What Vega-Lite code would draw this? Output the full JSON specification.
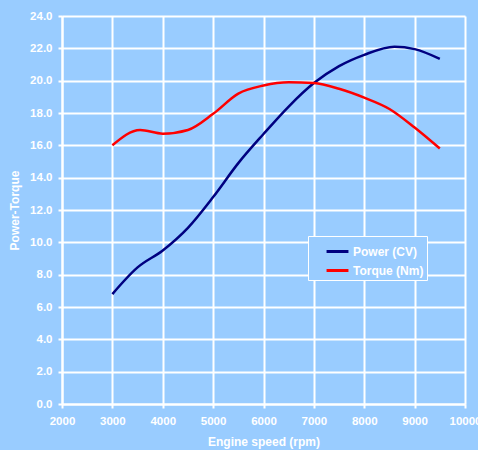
{
  "$schema": "https://vega.github.io/schema/vega-lite/v6.json",
  "width": 403,
  "height": 388,
  "autosize": {"type": "none"},
  "padding": {"left": 62, "top": 16, "right": 13, "bottom": 46},
  "background": "#99CCFF",
  "config": {
    "view": {"stroke": null, "fill": "#99CCFF"},
    "font": "Liberation Sans"
  },
  "data": {
    "values": [
      {"rpm": 3000, "value": 6.8, "series": "Power (CV)"},
      {"rpm": 3500, "value": 8.45, "series": "Power (CV)"},
      {"rpm": 4000, "value": 9.5, "series": "Power (CV)"},
      {"rpm": 4500, "value": 10.9, "series": "Power (CV)"},
      {"rpm": 5000, "value": 12.8, "series": "Power (CV)"},
      {"rpm": 5500, "value": 14.9, "series": "Power (CV)"},
      {"rpm": 6000, "value": 16.7, "series": "Power (CV)"},
      {"rpm": 6500, "value": 18.4, "series": "Power (CV)"},
      {"rpm": 7000, "value": 19.85, "series": "Power (CV)"},
      {"rpm": 7500, "value": 20.9, "series": "Power (CV)"},
      {"rpm": 8000, "value": 21.6, "series": "Power (CV)"},
      {"rpm": 8600, "value": 22.1, "series": "Power (CV)"},
      {"rpm": 9000, "value": 21.95, "series": "Power (CV)"},
      {"rpm": 9500, "value": 21.35, "series": "Power (CV)"},
      {"rpm": 3000, "value": 16.0, "series": "Torque (Nm)"},
      {"rpm": 3550, "value": 16.95, "series": "Torque (Nm)"},
      {"rpm": 4000, "value": 16.72, "series": "Torque (Nm)"},
      {"rpm": 4500, "value": 16.95, "series": "Torque (Nm)"},
      {"rpm": 5000, "value": 17.95, "series": "Torque (Nm)"},
      {"rpm": 5500, "value": 19.2, "series": "Torque (Nm)"},
      {"rpm": 6000, "value": 19.7, "series": "Torque (Nm)"},
      {"rpm": 6500, "value": 19.9, "series": "Torque (Nm)"},
      {"rpm": 7000, "value": 19.85, "series": "Torque (Nm)"},
      {"rpm": 7500, "value": 19.5, "series": "Torque (Nm)"},
      {"rpm": 8000, "value": 18.95, "series": "Torque (Nm)"},
      {"rpm": 8500, "value": 18.25, "series": "Torque (Nm)"},
      {"rpm": 9000, "value": 17.1, "series": "Torque (Nm)"},
      {"rpm": 9500, "value": 15.8, "series": "Torque (Nm)"}
    ]
  },
  "mark": {"type": "line", "interpolate": "monotone", "strokeWidth": 2.5},
  "encoding": {
    "x": {
      "field": "rpm",
      "type": "quantitative",
      "scale": {"domain": [2000, 10000], "nice": false, "zero": false},
      "axis": {
        "title": "Engine speed (rpm)",
        "values": [2000, 3000, 4000, 5000, 6000, 7000, 8000, 9000, 10000],
        "format": "d",
        "labelColor": "white",
        "labelFontSize": 11.5,
        "labelFontWeight": "bold",
        "labelPadding": 7,
        "titleColor": "white",
        "titleFontSize": 12,
        "titleFontWeight": "bold",
        "titlePadding": 10,
        "gridColor": "white",
        "gridWidth": 2,
        "gridOpacity": 1,
        "domainColor": "white",
        "domainWidth": 2,
        "tickColor": "white",
        "tickWidth": 2,
        "tickSize": 4,
        "labelFlush": false
      }
    },
    "y": {
      "field": "value",
      "type": "quantitative",
      "scale": {"domain": [0, 24], "nice": false},
      "axis": {
        "title": "Power-Torque",
        "values": [0, 2, 4, 6, 8, 10, 12, 14, 16, 18, 20, 22, 24],
        "format": ".1f",
        "labelColor": "white",
        "labelFontSize": 11.5,
        "labelFontWeight": "bold",
        "labelPadding": 6,
        "titleColor": "white",
        "titleFontSize": 12,
        "titleFontWeight": "bold",
        "titlePadding": 8,
        "gridColor": "white",
        "gridWidth": 2,
        "gridOpacity": 1,
        "domainColor": "white",
        "domainWidth": 2,
        "tickColor": "white",
        "tickWidth": 2,
        "tickSize": 4,
        "labelFlush": false
      }
    },
    "color": {
      "field": "series",
      "type": "nominal",
      "scale": {"domain": ["Power (CV)", "Torque (Nm)"], "range": ["#000080", "#FF0000"]},
      "legend": {
        "title": null,
        "orient": "none",
        "legendX": 246,
        "legendY": 220,
        "strokeColor": "white",
        "fillColor": "#99CCFF",
        "padding": 3,
        "symbolOffset": 14,
        "symbolType": "stroke",
        "symbolStrokeWidth": 3,
        "symbolSize": 480,
        "labelColor": "white",
        "labelFontSize": 12,
        "labelFontWeight": "bold",
        "labelOffset": 3,
        "rowPadding": 0,
        "labelLimit": 200
      }
    }
  }
}
